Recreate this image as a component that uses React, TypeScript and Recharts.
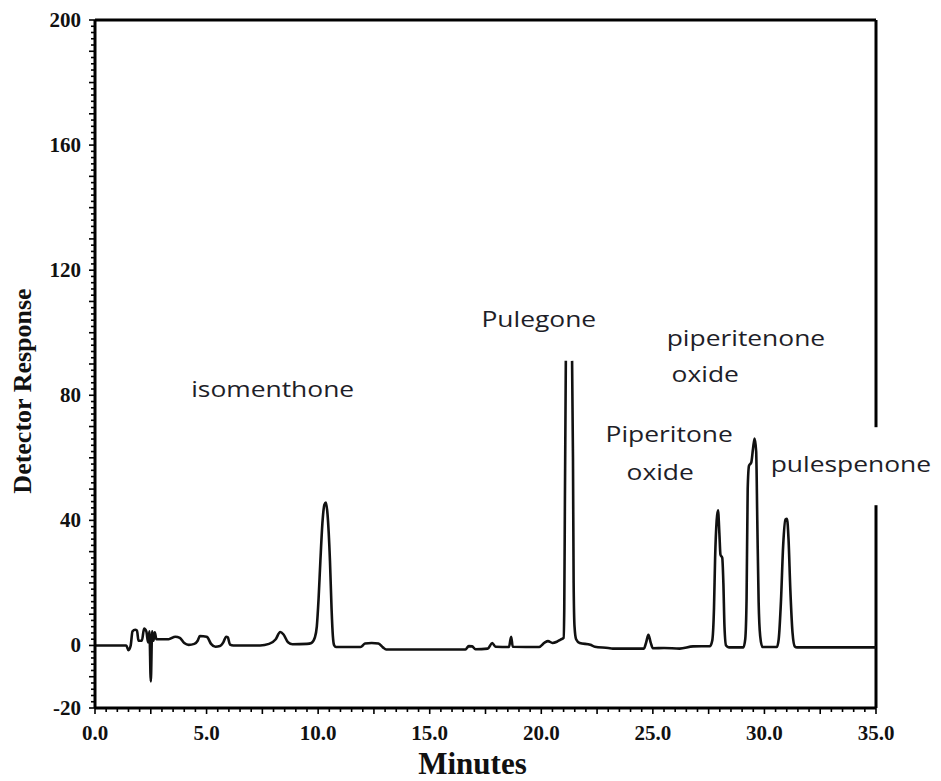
import { LineChart, Line, XAxis, YAxis, ReferenceLine, ReferenceDot } from "recharts";

// retention time (min) and detector response
const timeMin = [
  0, 0.5, 1.4, 1.5, 1.6, 1.68, 1.8, 1.88, 1.95, 2.1, 2.2, 2.3, 2.38, 2.44, 2.5, 2.56, 2.62, 2.68, 2.75,
  2.9, 3.3, 3.6, 3.8, 4.0, 4.2, 4.45, 4.6, 4.7, 5.0, 5.05, 5.2, 5.4, 5.6, 5.75, 5.88, 5.95, 6.05, 6.2,
  7.4, 7.8, 8.1, 8.3, 8.45, 8.65, 8.85, 9.5, 9.7, 9.85, 9.94, 10.02, 10.1, 10.2, 10.28, 10.35, 10.42,
  10.53, 10.6, 10.66, 10.72, 10.8, 11.9, 12.1, 12.4, 12.7, 12.9, 13.05, 16.6, 16.75, 16.9, 17.05, 17.6, 17.8,
  17.95, 18.55, 18.65, 18.72, 19.9, 20.15, 20.3, 20.5, 20.7, 20.85, 21.0, 21.03, 21.06, 21.1, 21.24,
  21.38, 21.42, 21.45, 21.49, 21.56, 21.72, 22.2, 22.4, 23.0, 23.2, 24.6, 24.7, 24.8, 24.9, 25.0,
  25.5, 26.2, 26.8, 27.56, 27.66, 27.74, 27.79, 27.86, 27.92, 27.98, 28.03, 28.11, 28.16, 28.21, 28.28,
  28.41, 29.06, 29.14, 29.2, 29.25, 29.31, 29.41, 29.49, 29.56, 29.63, 29.68, 29.74, 29.81, 29.91,
  30.56, 30.64, 30.74, 30.84, 30.94, 31.01, 31.08, 31.16, 31.26, 31.36, 31.46, 35,
];
const response = [
  0, 0, 0, -1.5, 0, 4.5, 5, 4.8, 1.5, 1.5, 5.4, 4.5, 1, 4.5, -11.5, 4.5, 1.5, 4.2, 2,
  2, 2, 2.8, 2.4, 0.8, 0.2, 0.5, 1.5, 3, 2.8, 2.5, 0.5, -0.4, -0.2, 1, 2.8, 2.6, 0.3, 0,
  0, 0.5, 2, 4.3, 3.5, 1, 0.4, 0.5, 0.8, 2.5, 6, 15, 27, 40, 45, 45.7, 42,
  27, 12, 3, 0, -0.5, -0.5, 0.6, 0.8, 0.6, -0.6, -1.3, -1.3, -0.2, -0.3, -1.2, -1, 0.8,
  -0.4, -0.5, 2.8, -0.4, -0.5, 0.9, 1.4, 0.8, 1.2, 1.8, 2.4, 12, 48, 91, null,
  91, 60, 20, 6, 2, 0.8, 0.2, -0.4, -0.8, -1, -1, 1, 3.4, 1, -0.9,
  -0.8, -1, -0.3, -0.2, 1.5, 12, 28, 40, 43.2, 36, 29, 28, 20, 6, 0,
  -0.6, -0.6, 2, 15, 50, 57.5, 58.5, 63, 66.2, 62, 40, 14, 3, -0.5,
  -0.5, 2, 14, 32, 40.3, 40.5, 34, 18, 4, -0.3, -0.6, -0.6,
];

const xLabelValues = [0, 5, 10, 15, 20, 25, 30, 35];
const xTickLabels = ["0.0", "5.0", "10.0", "15.0", "20.0", "25.0", "30.0", "35.0"];
const yLabelValues = [-20, 0, 40, 80, 120, 160, 200];
const yTickLabels = ["-20", "0", "40", "80", "120", "160", "200"];

const peakNames = ["isomenthone", "Pulegone", "piperitenone", "oxide", "Piperitone", "oxide", "pulespenone"];
const nameTimes = [4.31, 17.32, 25.62, 25.84, 22.88, 23.82, 30.28];
const nameResponses = [79.3, 101.8, 95.9, 84.2, 65, 52.8, 55.4];

const data = timeMin.map((t, i) => ({ t, v: response[i] }));
const xTicks = Array.from({ length: 71 }, (_, i) => i * 0.5);
const yTicks = Array.from({ length: 111 }, (_, i) => -20 + i * 2);

const serif = '"Liberation Serif", "Times New Roman", serif';
const sans = '"Open Sans", "Noto Sans", sans-serif';

const XTick = ({ x, y, payload }: any) => {
  const v = payload.value;
  const major = Math.abs(v % 2.5) < 1e-6;
  const idx = xLabelValues.indexOf(v);
  return (
    <g>
      <line x1={x} x2={x} y1={y} y2={y + (major ? 6 : 4)} stroke="#000" strokeWidth={1.6} />
      {idx >= 0 && (
        <text x={x} y={y + 32} textAnchor="middle" fontFamily={serif} fontWeight="bold" fontSize={21} fill="#111">
          {xTickLabels[idx]}
        </text>
      )}
    </g>
  );
};

const YTick = ({ x, y, payload }: any) => {
  const v = payload.value;
  const major = v % 10 === 0;
  const idx = yLabelValues.indexOf(v);
  return (
    <g>
      <line x1={x} x2={x - (major ? 6 : 4)} y1={y} y2={y} stroke="#000" strokeWidth={1.6} />
      {idx >= 0 && (
        <text x={x - 14} y={y + 7} textAnchor="end" fontFamily={serif} fontWeight="bold" fontSize={21} fill="#111">
          {yTickLabels[idx]}
        </text>
      )}
    </g>
  );
};

const XTitle = ({ viewBox }: any) => (
  <text x={viewBox.x + viewBox.width / 2 - 13} y={viewBox.y + 66} textAnchor="middle"
    fontFamily={serif} fontWeight="bold" fontSize={31} fill="#111">
    Minutes
  </text>
);

const YTitle = ({ viewBox }: any) => {
  const cx = 31;
  const cy = viewBox.y + viewBox.height / 2 + 27;
  return (
    <text x={cx} y={cy} transform={`rotate(-90, ${cx}, ${cy})`} textAnchor="middle"
      fontFamily={serif} fontWeight="bold" fontSize={26} fill="#111">
      Detector Response
    </text>
  );
};

const nameShape = (name: string, boxed: boolean) => (p: any) => (
  <g>
    {boxed && <rect x={p.cx - 7} y={p.cy - 45} width={176} height={78} fill="#fff" />}
    <g transform={`translate(${p.cx}, ${p.cy}) scale(1.2, 1)`}>
      <text x={0} y={0} fontFamily={sans} fontSize={22} fill="#1e1e28">{name}</text>
    </g>
  </g>
);

export default function App() {
  return (
    <div style={{ position: "absolute", left: 0, top: 0, width: 941, height: 781, background: "#fff" }}>
      <LineChart width={941} height={781} data={data} margin={{ top: 20, right: 65, bottom: 13, left: 25 }}>
        <XAxis dataKey="t" type="number" domain={[0, 35]} ticks={xTicks} interval={0} height={60}
          axisLine={{ stroke: "#000", strokeWidth: 3 }} tickLine={false} tickSize={0} tickMargin={0}
          tick={<XTick />} allowDataOverflow label={<XTitle />} />
        <YAxis type="number" domain={[-20, 200]} ticks={yTicks} interval={0} width={70}
          axisLine={{ stroke: "#000", strokeWidth: 3 }} tickLine={false} tickSize={0} tickMargin={0}
          tick={<YTick />} allowDataOverflow label={<YTitle />} />
        <ReferenceLine y={200} stroke="#000" strokeWidth={3} />
        <ReferenceLine x={35} stroke="#000" strokeWidth={3} />
        <Line type="monotone" dataKey="v" stroke="#111" strokeWidth={2.6} dot={false}
          connectNulls={false} isAnimationActive={false} />
        {peakNames.map((name, i) => (
          <ReferenceDot key={i} x={nameTimes[i]} y={nameResponses[i]} r={0}
            shape={nameShape(name, name === "pulespenone")} />
        ))}
      </LineChart>
    </div>
  );
}
